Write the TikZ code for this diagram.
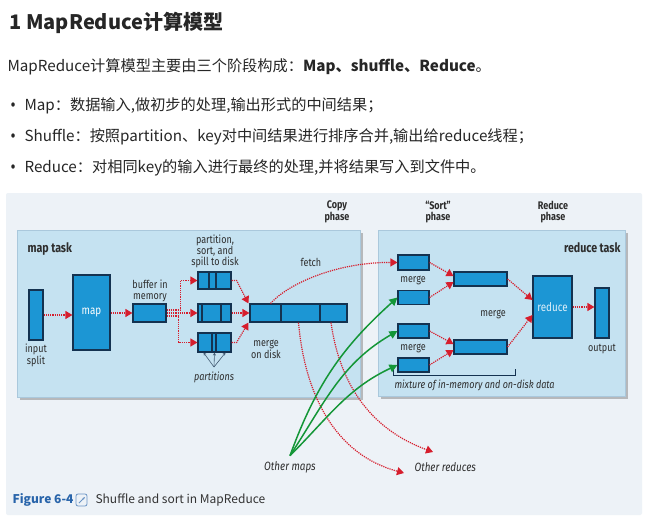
\documentclass[tikz,border=0pt]{standalone}
\usepackage{fontspec}
\setmainfont{Noto Sans CJK SC}
\newfontfamily\figfont[FakeStretch=0.82]{Fira Sans}
\definecolor{figbg}{RGB}{237,242,247}
\definecolor{taskbg}{RGB}{197,226,241}
\definecolor{taskline}{RGB}{170,200,220}
\definecolor{boxfill}{RGB}{28,150,212}
\definecolor{boxline}{RGB}{20,50,80}
\definecolor{fetchred}{RGB}{214,30,45}
\definecolor{othergreen}{RGB}{20,150,55}
\definecolor{figblue}{RGB}{40,100,170}
\definecolor{txt}{RGB}{45,45,45}
\usetikzlibrary{arrows.meta,shadows}
\newcommand{\dotmark}{\makebox[14pt][l]{\raisebox{-1pt}{\figfont\fontsize{19}{19}\selectfont•}}}

\begin{document}
\begin{tikzpicture}[x=1pt, y=-1pt,
  every node/.style={text=txt, font=\figfont\fontsize{11}{10.5}\selectfont},
  task/.style={draw=taskline, fill=taskbg, line width=0.6pt, inner sep=0pt,
    drop shadow={shadow xshift=2.5pt, shadow yshift=-2.5pt, fill=black!50}},
  blk/.style={draw=boxline, fill=boxfill, line width=1.1pt, inner sep=0pt},
  lbl/.style={align=center},
  note/.style={font=\figfont\fontsize{11}{10.5}\selectfont\itshape},
  phase/.style={align=center, font=\figfont\fontsize{11}{10.5}\selectfont\bfseries},
  flow/.style={draw=fetchred, line width=1.2pt, dash pattern=on 1.2pt off 1pt,
    -{Triangle[length=7pt,width=8pt]}},
  feed/.style={draw=othergreen, line width=1.5pt, -{Triangle[length=8pt,width=8pt]}},
  top/.style={anchor=west, text=black!85, font=\normalfont\fontsize{15.2}{17}\selectfont}]
  \useasboundingbox[fill=white] (0,0) rectangle (646,522);

  % page text
  \node[top, font=\normalfont\fontsize{20}{24}\bfseries] (title) at (6,23) {1 MapReduce计算模型};
  \node[top] (intro) at (4,67) {MapReduce计算模型主要由三个阶段构成：\textbf{Map、shuffle、Reduce}。};
  \node[top] (b1) at (7,106) {\dotmark Map：数据输入,做初步的处理,输出形式的中间结果；};
  \node[top] (b2) at (7,137) {\dotmark Shuffle：按照partition、key对中间结果进行排序合并,输出给reduce线程；};
  \node[top] (b3) at (7,168) {\dotmark Reduce：对相同key的输入进行最终的处理,并将结果写入到文件中。};

  % figure panel
  \fill[figbg, rounded corners=2pt] (6,193) rectangle (642,515);
  \node[task, minimum width=343pt, minimum height=167pt] (maptask) at (188.5,313.5) {};
  \node[task, minimum width=247pt, minimum height=166pt] (redtask) at (501.5,313) {};
  \node[anchor=west, font=\figfont\fontsize{13}{12}\selectfont\bfseries] (maplbl) at (24,249) {map task};
  \node[anchor=east, font=\figfont\fontsize{13}{12}\selectfont\bfseries] (redlbl) at (624,248) {reduce task};
  \node[phase] (copyph) at (337,212) {Copy\\phase};
  \node[phase] (sortph) at (438,212) {“Sort”\\phase};
  \node[phase] (redph) at (553,212) {Reduce\\phase};

  % map side
  \node[blk, minimum width=14pt, minimum height=50pt] (insplit) at (36,315) {};
  \node[lbl] (inlbl) at (36,355) {input\\split};
  \node[blk, minimum width=37pt, minimum height=75pt, text=white, font=\figfont\fontsize{12}{12}\selectfont] (mapbox) at (91.5,312.5) {map};
  \node[blk, minimum width=33pt, minimum height=18pt] (buf) at (149.5,313) {};
  \node[lbl] (buflbl) at (150,291) {buffer in\\memory};
  \node[blk, minimum width=33pt, minimum height=17pt] (p1) at (214.5,280.5) {};
  \node[blk, minimum width=33pt, minimum height=18pt] (p2) at (214.5,313) {};
  \node[blk, minimum width=33pt, minimum height=19pt] (p3) at (214.5,342.5) {};
  \draw[boxline, line width=1.1pt] (209,0 |- p1.north) -- (209,0 |- p1.south) (216,0 |- p1.north) -- (216,0 |- p1.south)
    (202,0 |- p2.north) -- (202,0 |- p2.south) (221,0 |- p2.north) -- (221,0 |- p2.south)
    (212,0 |- p3.north) -- (212,0 |- p3.south) (216,0 |- p3.north) -- (216,0 |- p3.south);
  \node[lbl] (spill) at (215,251) {partition,\\sort, and\\spill to disk};
  \node[note] (parts) at (214,377) {partitions};
  \foreach \dx in {-11,0,11}
    \draw[boxline!80, line width=0.6pt, -{Stealth[length=3pt,width=3pt]}] ([yshift=1pt]parts.north) -- ([xshift=\dx pt]p3.south);
  \node[blk, minimum width=97pt, minimum height=18pt] (mg) at (298.5,313) {};
  \draw[boxline, line width=1.1pt] (281,0 |- mg.north) -- (281,0 |- mg.south) (320,0 |- mg.north) -- (320,0 |- mg.south);
  \node[lbl] (mglbl) at (266,349) {merge\\on disk};
  \node[lbl] (fetch) at (311,262) {fetch};

  \draw[flow] (insplit.east) -- (insplit.east -| mapbox.west);
  \draw[flow] (mapbox.east |- buf) -- (buf.west);
  \draw[flow] ([yshift=3pt]buf.east) -- ++(14,0) |- (p1.west);
  \draw[flow] (buf.east) -- (p2.west);
  \draw[flow] ([yshift=-3pt]buf.east) -- ++(12,0) |- (p3.west);
  \draw[flow] (p1.east) -- ++(5,0) -- ([xshift=-1pt]mg.north west);
  \draw[flow] (p2.east) -- (mg.west);
  \draw[flow] (p3.east) -- ++(5,0) -- ([xshift=-1pt]mg.south west);

  % reduce side
  \node[blk, minimum width=31pt, minimum height=15pt] (r1) at (413.5,262.5) {};
  \node[blk, minimum width=31pt, minimum height=14pt] (r2) at (413.5,297.5) {};
  \node[blk, minimum width=31pt, minimum height=14pt] (r3) at (413.5,331) {};
  \node[blk, minimum width=31pt, minimum height=14pt] (r4) at (413.5,365) {};
  \node[lbl] (mlbl1) at (413,280) {merge};
  \node[lbl] (mlbl2) at (413,348) {merge};
  \node[blk, minimum width=53pt, minimum height=14pt] (m1) at (480.5,279) {};
  \node[blk, minimum width=53pt, minimum height=14pt] (m2) at (480.5,347) {};
  \node[lbl] (mlbl3) at (493,314) {merge};
  \node[blk, minimum width=39pt, minimum height=62pt, text=white!85!boxfill, font=\figfont\fontsize{12}{12}\selectfont] (redbox) at (552.5,307) {reduce};
  \node[blk, minimum width=14pt, minimum height=50pt] (outp) at (602,313) {};
  \node[lbl] (outlbl) at (602,349) {output};
  \draw[boxline, line width=0.9pt] (393,369) -- (393,375) -- (515,375) -- (515,369);
  \node[note, anchor=west] (mix) at (391,385) {mixture of in-memory and on-disk data};

  \draw[flow] (r1.east) -- ([yshift=3pt]m1.west);
  \draw[flow] (r2.east) -- ([yshift=-3pt]m1.west);
  \draw[flow] (r3.east) -- ([yshift=3pt]m2.west);
  \draw[flow] (r4.east) -- ([yshift=-3pt]m2.west);
  \draw[flow] (m1.east) -- ([yshift=7pt]redbox.west);
  \draw[flow] (m2.east) -- ([yshift=-8pt]redbox.west);
  \draw[flow] (redbox.east) -- (redbox.east -| outp.west);

  % copy phase
  \node[note, font=\figfont\fontsize{12}{12}\selectfont\itshape] (othermaps) at (290,467) {Other maps};
  \node[note, anchor=west, font=\figfont\fontsize{12}{12}\selectfont\itshape] (otherred) at (411,467) {Other reduces};
  \coordinate (or1) at (433,452);
  \coordinate (or2) at (404,473);
  \draw[flow] ([xshift=-28pt]mg.north) .. controls (290,282) and (340,262) .. (r1.west);
  \draw[flow] (mg.south) to[out=-85, in=165] (or2);
  \draw[flow] ([xshift=32.5pt]mg.south) to[out=-82, in=160] (or1);
  \draw[feed] ([yshift=2pt]othermaps.north) to[out=70, in=222] (r2.west);
  \draw[feed] ([yshift=2pt]othermaps.north) to[out=57, in=210] (r3.west);
  \draw[feed] ([yshift=2pt]othermaps.north) to[out=45, in=205] (r4.west);

  % caption
  \node[anchor=west, text=figblue, font=\normalfont\fontsize{12}{12}\bfseries] (fignum) at (9,500) {Figure 6-4};
  \draw[figblue!70, line width=0.8pt, rounded corners=2pt] (76,494) rectangle (87,506);
  \draw[figblue!70, line width=0.8pt, -{Stealth[length=3pt]}] (79,503) -- (85,497);
  \node[anchor=west, text=black!80, font=\normalfont\fontsize{12}{12}\selectfont] (figcap) at (92,500) {Shuffle and sort in MapReduce};
\end{tikzpicture}
\end{document}
